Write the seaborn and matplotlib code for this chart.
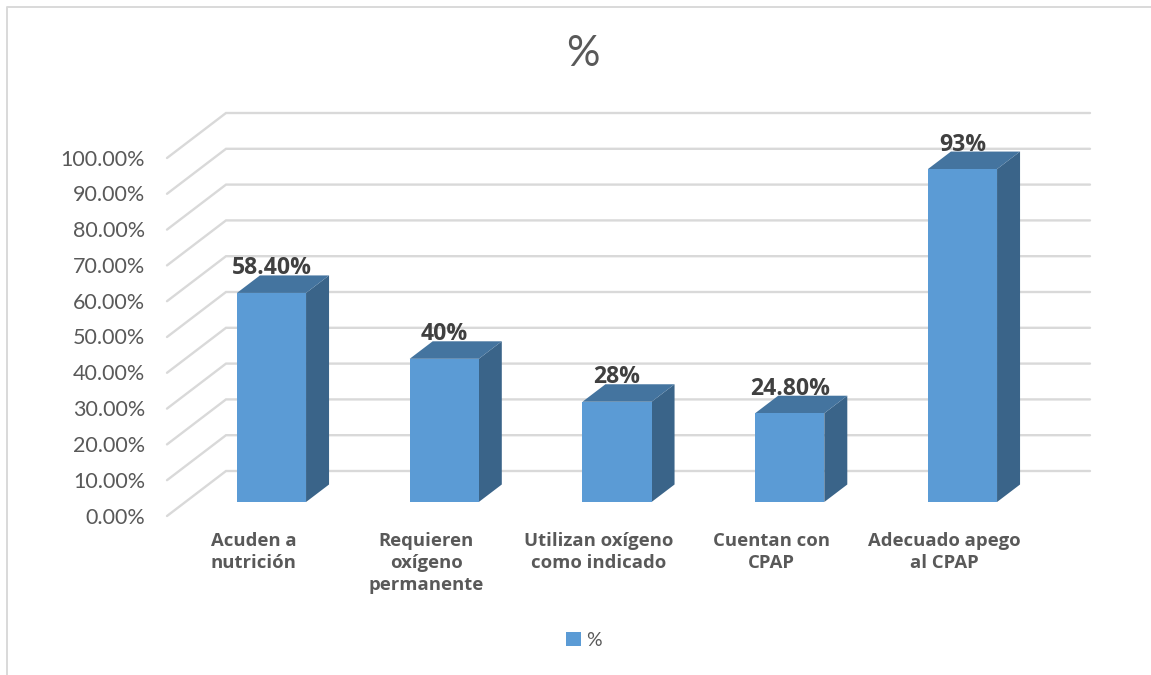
import matplotlib
matplotlib.use("Agg")
import matplotlib.pyplot as plt
import pandas as pd
import seaborn as sns
from matplotlib.patches import Polygon

categories = ["Acuden a\nnutrición", "Requieren\noxígeno\npermanente",
              "Utilizan oxígeno\ncomo indicado", "Cuentan con\nCPAP",
              "Adecuado apego\nal CPAP"]
values = [58.4, 40, 28, 24.8, 93]
value_labels = ["58.40%", "40%", "28%", "24.80%", "93%"]
y_ticks = [0, 10, 20, 30, 40, 50, 60, 70, 80, 90, 100]
series_name = "%"

FRONT = "#5B9BD5"
TOP = "#44749F"
SIDE = "#3A6489"
GRID = "#D9D9D9"
TEXT = "#595959"
LABEL = "#404040"
W, H = 1151, 675

# One unit on x is a category step, one unit on y is a percentage point.
X_UNIT = 172.75
Y_UNIT = 3.58
X0_PX = 271.5
Y0_PX = 502.0
BAR_WIDTH = 0.4


def dx(px):
    return px / X_UNIT


def dy(px):
    return px / Y_UNIT


sns.set_theme(style="white")
plt.rcParams["font.family"] = ["Lato", "DejaVu Sans"]

fig = plt.figure(figsize=(W / 100, H / 100), dpi=100, facecolor="white")
ax = fig.add_axes([0, 0, 1, 1])
ax.set_xlim(-X0_PX / X_UNIT, (W - X0_PX) / X_UNIT)
ax.set_ylim((Y0_PX - H) / Y_UNIT, Y0_PX / Y_UNIT)

# Chart frame: only the left and top edges show.
frame_l, frame_r = ax.get_xlim()[0] + dx(6.5), ax.get_xlim()[1]
frame_t = ax.get_ylim()[1] - dy(7.5)
frame_b = ax.get_ylim()[0]
ax.plot([frame_l, frame_l, frame_r], [frame_b, frame_t, frame_t],
        color=GRID, lw=1.4, zorder=0.5, clip_on=False)

# Back wall and floor guide lines of the pseudo 3D box.
wall_left, wall_right = dx(226 - X0_PX), dx(1090 - X0_PX)
front_left = dx(167 - X0_PX)
back_rise, front_drop = dy(31), dy(14)
for t in y_ticks:
    ax.plot([front_left, wall_left, wall_right],
            [t - front_drop, t + back_rise, t + back_rise],
            color=GRID, lw=1.7, solid_capstyle="round", solid_joinstyle="miter", zorder=1)
    ax.text(dx(145 - X0_PX), t - dy(12) - dy(3.5), f"{t:.2f}%", ha="right", va="center",
            fontsize=15.5, color=TEXT, zorder=6)

df = pd.DataFrame({"categoria": categories, "valor": values})
sns.barplot(data=df, x="categoria", y="valor", color=FRONT, saturation=1, width=BAR_WIDTH,
            native_scale=False, ax=ax, zorder=4, label=series_name, legend=True,
            edgecolor="none", linewidth=0)
ax.set_xlim(-X0_PX / X_UNIT, (W - X0_PX) / X_UNIT)
ax.set_ylim((Y0_PX - H) / Y_UNIT, Y0_PX / Y_UNIT)

# Depth faces and captions for each bar.
depth_x, depth_y = dx(23), dy(17.5)
for i, (val, lab, cat) in enumerate(zip(values, value_labels, categories)):
    l, r = i - BAR_WIDTH / 2, i + BAR_WIDTH / 2
    ax.add_patch(Polygon([(r, 0), (r + depth_x, depth_y), (r + depth_x, val + depth_y), (r, val)],
                         closed=True, facecolor=SIDE, edgecolor="none", zorder=3.5))
    ax.add_patch(Polygon([(l, val), (l + depth_x, val + depth_y), (r + depth_x, val + depth_y), (r, val)],
                         closed=True, facecolor=TOP, edgecolor="none", zorder=3.5))
    ax.annotate(lab, (i, val), xytext=(0, 9), textcoords="offset points", ha="center",
                va="bottom", fontsize=16.6, fontweight="bold", family="Open Sans",
                color=LABEL, zorder=7)
    ax.text(i - dx(18), -dy(29.5), cat, ha="center", va="top", fontsize=13.3, fontweight="bold",
            family="Open Sans", color=TEXT, linespacing=1.3, zorder=6)

ax.set_xticks([])
ax.set_yticks([])
ax.set_xlabel("")
ax.set_ylabel("")
for spine in ax.spines.values():
    spine.set_visible(False)

ax.text(dx(583 - X0_PX), dy(Y0_PX - 54), series_name, ha="center", va="center",
        fontsize=30, color=TEXT, zorder=6)

handles, labels = ax.get_legend_handles_labels()
leg = ax.legend(handles[:1], labels[:1], loc="center", bbox_to_anchor=(584 / W, 1 - 640 / H),
                frameon=False, fontsize=14, labelcolor=TEXT, handlelength=0.75, handleheight=0.75,
                handletextpad=0.3, borderpad=0)

fig.savefig("out.png", dpi=100, facecolor="white")
